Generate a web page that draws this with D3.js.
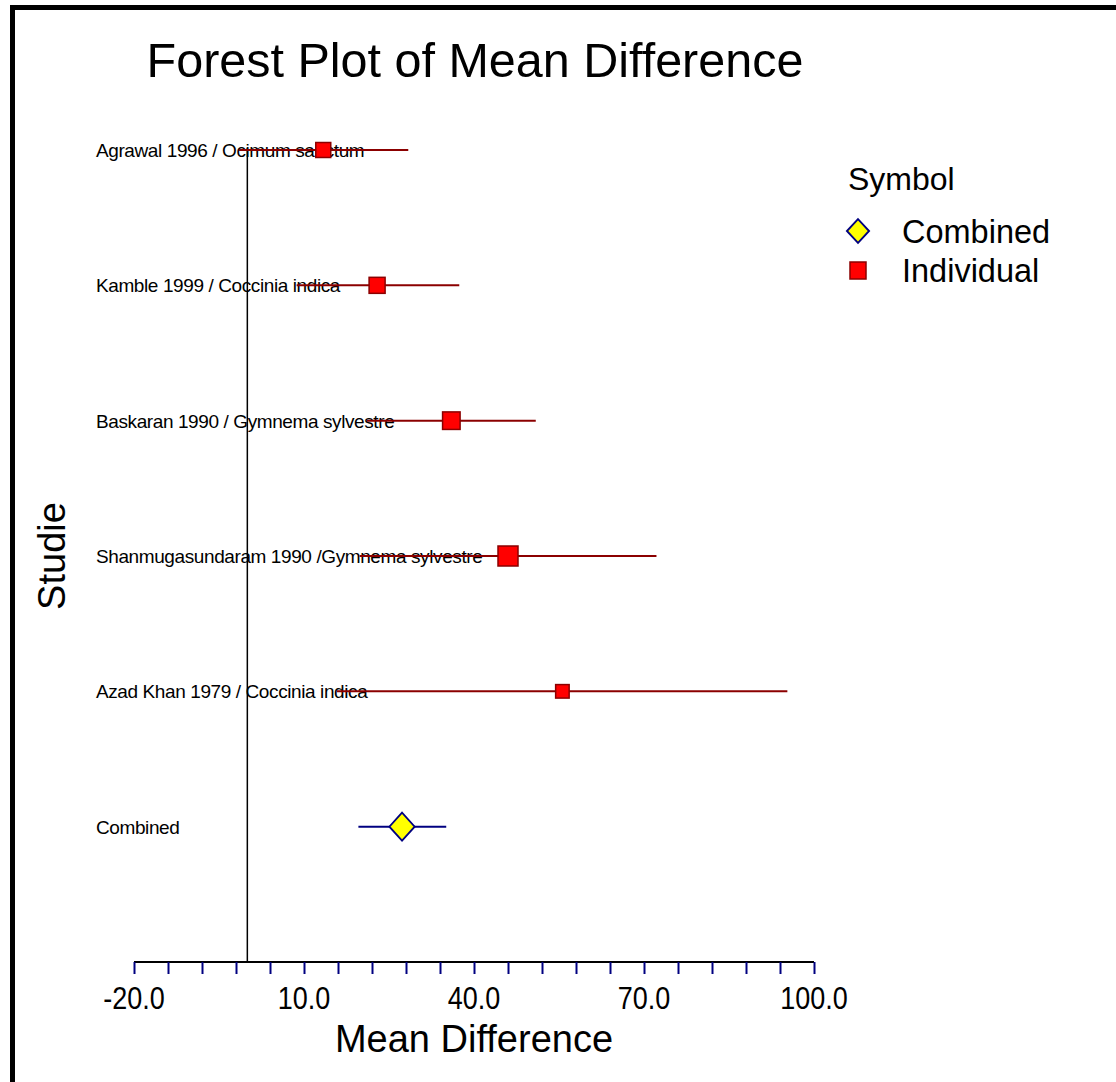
<!DOCTYPE html>
<html>
<head>
<meta charset="utf-8">
<script src="https://cdn.jsdelivr.net/npm/d3@7"></script>
<style>
  body { margin: 0; background: #fff; }
  text { font-family: Arial, "Liberation Sans", sans-serif; fill: #000; }
</style>
</head>
<body>
<svg id="chart" width="1116" height="1082"></svg>
<script>
// study data
var studies = [
    "Agrawal 1996 / Ocimum sanctum",
    "Kamble 1999 / Coccinia indica",
    "Baskaran 1990 / Gymnema sylvestre",
    "Shanmugasundaram 1990 /Gymnema sylvestre",
    "Azad Khan 1979 / Coccinia indica"
];
var means = [13.4, 22.9, 36.0, 46.0, 55.6];
var lower = [-1.5, 8.7, 21.1, 19.8, 15.8];
var upper = [28.4, 37.4, 50.9, 72.2, 95.3];
var weights = [16.4, 18.7, 22.4, 29.2, 13.3];

var combinedLabel = "Combined";
var combinedMean = 27.3;
var combinedLower = 19.6;
var combinedUpper = 35.1;

var xTicks = [-20, 10, 40, 70, 100];
var xMinorStep = 6;

var svg = d3.select("#chart");

// frame (top and left only)
svg.append("line").attr("x1", 10).attr("x2", 1116).attr("y1", 7.5).attr("y2", 7.5)
    .attr("stroke", "#000").attr("stroke-width", 5);
svg.append("line").attr("x1", 12.5).attr("x2", 12.5).attr("y1", 5).attr("y2", 1082)
    .attr("stroke", "#000").attr("stroke-width", 5);

var x = d3.scaleLinear().domain([-20, 100]).range([134, 814]);
var y = d3.scaleLinear().domain([0, 6]).range([150, 962]);
var size = d3.scaleSqrt().domain([0, d3.max(weights)]).range([0, 20]);

// title
svg.append("text").attr("x", 475).attr("y", 77).attr("text-anchor", "middle")
    .style("font-size", "48.5px").text("Forest Plot of Mean Difference");

// zero line
svg.append("line").attr("x1", x(0)).attr("x2", x(0)).attr("y1", y(0) - 2).attr("y2", y(6))
    .attr("stroke", "#000").attr("stroke-width", 1.5);

var rows = studies.map(function(name, i) {
    return { name: name, mean: means[i], lo: lower[i], hi: upper[i], w: weights[i], idx: i };
});

// row labels
svg.selectAll(".rowlabel").data(studies.concat([combinedLabel])).enter().append("text")
    .attr("class", "rowlabel")
    .attr("x", 96).attr("y", function(d, i) { return y(i) + 7; })
    .style("font-size", "19px").style("letter-spacing", "-0.4px")
    .text(function(d) { return d; });

// confidence lines
svg.selectAll(".ci").data(rows).enter().append("line")
    .attr("class", "ci")
    .attr("x1", function(d) { return x(d.lo); })
    .attr("x2", function(d) { return x(d.hi); })
    .attr("y1", function(d) { return y(d.idx); })
    .attr("y2", function(d) { return y(d.idx); })
    .attr("stroke", "#8b0000").attr("stroke-width", 2);

svg.selectAll(".box").data(rows).enter().append("rect")
    .attr("class", "box")
    .attr("x", function(d) { return x(d.mean) - size(d.w) / 2; })
    .attr("y", function(d) { return y(d.idx) - size(d.w) / 2; })
    .attr("width", function(d) { return size(d.w); })
    .attr("height", function(d) { return size(d.w); })
    .attr("fill", "#ff0000").attr("stroke", "#8b0000").attr("stroke-width", 1.5);

// combined estimate
var cy = y(5);
svg.append("line").attr("x1", x(combinedLower)).attr("x2", x(combinedUpper))
    .attr("y1", cy).attr("y2", cy).attr("stroke", "#000080").attr("stroke-width", 2);
svg.append("path")
    .attr("d", d3.symbol().type(d3.symbolDiamond2).size(500)())
    .attr("transform", "translate(" + x(combinedMean) + "," + cy + ") scale(0.9,1)")
    .attr("fill", "#ffff00").attr("stroke", "#000080").attr("stroke-width", 2);

// x axis
var minor = d3.range(-20, 100.001, xMinorStep);
var axisG = svg.append("g").attr("transform", "translate(0," + y(6) + ")");
axisG.call(d3.axisBottom(x).tickValues(minor).tickSize(12).tickFormat(""));
axisG.select(".domain").attr("stroke", "#000").attr("stroke-width", 2)
    .attr("d", "M" + x(-20) + ",0H" + x(100));
axisG.selectAll(".tick line").attr("stroke", "#000080").attr("stroke-width", 2);

svg.selectAll(".ticklab").data(xTicks).enter().append("text")
    .attr("class", "ticklab")
    .attr("transform", function(d) { return "translate(" + x(d) + ",1009) scale(1,1.17)"; })
    .attr("text-anchor", "middle").style("font-size", "27px")
    .text(function(d) { return d.toFixed(1); });

svg.append("text").attr("x", 474).attr("y", 1052).attr("text-anchor", "middle")
    .style("font-size", "38px").text("Mean Difference");

svg.append("text").attr("transform", "translate(65,556) rotate(-90)")
    .attr("text-anchor", "middle").style("font-size", "38px").text("Studie");

// legend
var leg = svg.append("g");
leg.append("text").attr("x", 848).attr("y", 190).style("font-size", "32px").text("Symbol");
leg.append("path")
    .attr("d", d3.symbol().type(d3.symbolDiamond2).size(360)())
    .attr("transform", "translate(858,231) scale(0.93,1)")
    .attr("fill", "#ffff00").attr("stroke", "#000080").attr("stroke-width", 2);
leg.append("text").attr("x", 902).attr("y", 243).style("font-size", "32.5px").text("Combined");
leg.append("rect").attr("x", 850).attr("y", 262).attr("width", 16).attr("height", 17)
    .attr("fill", "#ff0000").attr("stroke", "#8b0000").attr("stroke-width", 1.5);
leg.append("text").attr("x", 902).attr("y", 282).style("font-size", "32.5px").text("Individual");
</script>
</body>
</html>
